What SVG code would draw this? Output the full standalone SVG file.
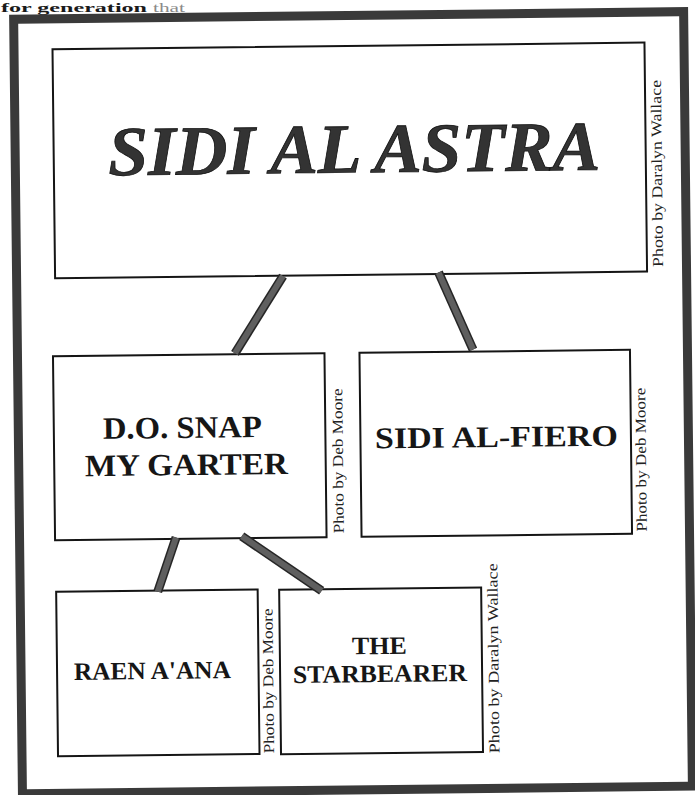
<svg xmlns="http://www.w3.org/2000/svg" width="695" height="795" viewBox="0 0 695 795">
<style>
.frame{fill:none;stroke:#3a3a3a;stroke-width:9}
.box{fill:#fff;stroke:#151515;stroke-width:2}
.lbl{font-family:"Liberation Serif","Times New Roman",serif;font-weight:bold;fill:#161616;text-anchor:middle}
.title{font-family:"Liberation Serif","Times New Roman",serif;font-weight:bold;font-style:italic;fill:#333;stroke:#111;stroke-width:0.8;text-anchor:middle}
.credit{font-family:"Liberation Serif","Times New Roman",serif;font-size:15px;fill:#222}
.page{font-family:"Liberation Serif","Times New Roman",serif;font-size:13px;font-weight:bold;fill:#1a1a1a}
.edge-o{fill:none;stroke:#262626;stroke-width:9;stroke-linecap:butt}
.edge-i{fill:none;stroke:#5f5f5f;stroke-width:6;stroke-linecap:butt}
</style>
<rect width="695" height="795" fill="#fff"/>
<text class="page" x="1" y="11.8" textLength="146" lengthAdjust="spacingAndGlyphs">for generation</text>
<text class="page" x="153" y="11.8" textLength="32" lengthAdjust="spacingAndGlyphs" style="fill:#8a8a8a;font-weight:normal">that</text>
<g transform="rotate(-0.65 347 400)">
  <rect class="frame" x="18" y="15.5" width="670" height="774.5"/>

  <g id="sidi-al-astra">
    <rect class="box" x="56.5" y="46" width="592" height="229"/>
    <text class="title" x="357" y="172.5" font-size="70" textLength="492" lengthAdjust="spacingAndGlyphs">SIDI AL ASTRA</text>
    <text class="credit" transform="translate(664.5 270.5) rotate(-90)" textLength="187" lengthAdjust="spacingAndGlyphs">Photo by Daralyn Wallace</text>
  </g>

  <g id="do-snap-my-garter">
    <rect class="box" x="53.5" y="353" width="271.5" height="184"/>
    <text class="lbl" x="182" y="436" font-size="31" textLength="159" lengthAdjust="spacingAndGlyphs">D.O. SNAP</text>
    <text class="lbl" x="185.7" y="473.2" font-size="31" textLength="203" lengthAdjust="spacingAndGlyphs">MY GARTER</text>
    <text class="credit" transform="translate(342.3 533.3) rotate(-90)" textLength="145" lengthAdjust="spacingAndGlyphs">Photo by Deb Moore</text>
  </g>

  <g id="sidi-al-fiero">
    <rect class="box" x="360" y="353" width="270.5" height="184"/>
    <text class="lbl" x="496" y="448.7" font-size="30" textLength="243" lengthAdjust="spacingAndGlyphs">SIDI AL-FIERO</text>
    <text class="credit" transform="translate(645.3 535) rotate(-90)" textLength="144" lengthAdjust="spacingAndGlyphs">Photo by Deb Moore</text>
  </g>

  <g id="raen-aana">
    <rect class="box" x="54" y="588.5" width="201.5" height="164.5"/>
    <text class="lbl" x="149.3" y="676.8" font-size="25" textLength="157" lengthAdjust="spacingAndGlyphs">RAEN A'ANA</text>
    <text class="credit" transform="translate(270.1 752.5) rotate(-90)" textLength="145" lengthAdjust="spacingAndGlyphs">Photo by Deb Moore</text>
  </g>

  <g id="the-starbearer">
    <rect class="box" x="277" y="589" width="202" height="164.5"/>
    <text class="lbl" x="376.6" y="654.4" font-size="25" textLength="55" lengthAdjust="spacingAndGlyphs">THE</text>
    <text class="lbl" x="376.8" y="682.4" font-size="25" textLength="174" lengthAdjust="spacingAndGlyphs">STARBEARER</text>
    <text class="credit" transform="translate(495.4 755) rotate(-90)" textLength="190" lengthAdjust="spacingAndGlyphs">Photo by Daralyn Wallace</text>
  </g>

  <g id="connectors">
    <line class="edge-o" x1="284.4" y1="275.3" x2="235.5" y2="352"/>
    <line class="edge-i" x1="284.4" y1="275.3" x2="235.5" y2="352"/>
    <line class="edge-o" x1="440" y1="273.5" x2="473.6" y2="351"/>
    <line class="edge-i" x1="440" y1="273.5" x2="473.6" y2="351"/>
    <line class="edge-o" x1="174.5" y1="535.5" x2="155.6" y2="589.5"/>
    <line class="edge-i" x1="174.5" y1="535.5" x2="155.6" y2="589.5"/>
    <line class="edge-o" x1="240.2" y1="535" x2="319.5" y2="590.5"/>
    <line class="edge-i" x1="240.2" y1="535" x2="319.5" y2="590.5"/>
  </g>
</g>
</svg>
